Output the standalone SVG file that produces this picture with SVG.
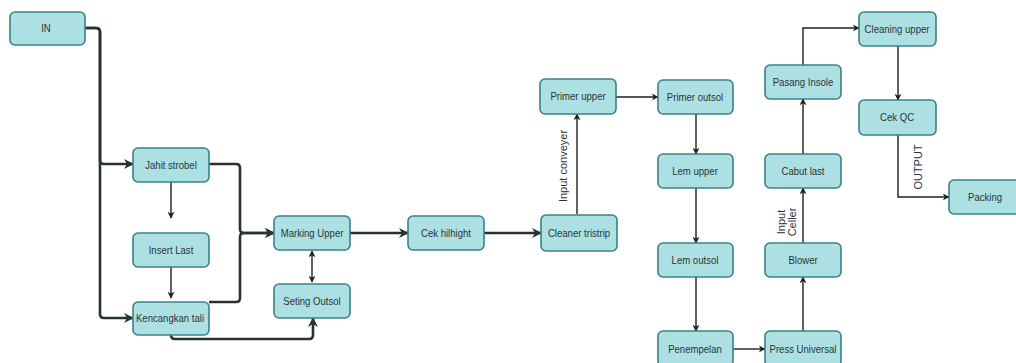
<svg xmlns="http://www.w3.org/2000/svg" width="1016" height="363" viewBox="0 0 1016 363">
<style>
.box{fill:#ade0e3;stroke:#3b8188;stroke-width:1.6}
.lbl{font-family:"Liberation Sans",Arial,sans-serif;font-size:11px;fill:#2a3438;text-anchor:middle;dominant-baseline:central;transform-box:fill-box;transform-origin:center;transform:scaleX(0.87)}
.rot{font-family:"Liberation Sans",Arial,sans-serif;font-size:11px;fill:#2a3438;text-anchor:middle;dominant-baseline:central}
.thick{fill:none;stroke:#263238;stroke-width:2.6;marker-end:url(#ah)}
.thin{fill:none;stroke:#1f1f1f;stroke-width:1.4;marker-end:url(#as)}
</style>
<defs>
<marker id="ah" viewBox="0 0 10 10" markerUnits="userSpaceOnUse" markerWidth="10" markerHeight="10" refX="9" refY="5" orient="auto"><path d="M0,0 L10,5 L0,10 L3,5 z" fill="#263238"/></marker>
<marker id="as" viewBox="0 0 10 10" markerUnits="userSpaceOnUse" markerWidth="7" markerHeight="7" refX="9" refY="5" orient="auto"><path d="M0,0 L10,5 L0,10 L3,5 z" fill="#1f1f1f"/></marker>
<marker id="as2" viewBox="0 0 10 10" markerUnits="userSpaceOnUse" markerWidth="7" markerHeight="7" refX="9" refY="5" orient="auto-start-reverse"><path d="M0,0 L10,5 L0,10 L3,5 z" fill="#1f1f1f"/></marker>
</defs>
<g id="connectors">
<path class="thick" d="M85,28 H96 Q100,28 100,32 V160 Q100,164 104,164 H133"/>
<path class="thick" d="M85,28 H96 Q100,28 100,32 V314 Q100,318 104,318 H133"/>
<path class="thin" d="M171,182 V218"/>
<path class="thin" d="M171,267 V298"/>
<path class="thick" d="M209,164 H236 Q240,164 240,168 V229 Q240,233 244,233 H274"/>
<path class="thick" d="M209,302 H236 Q240,302 240,298 V237 Q240,233 244,233 H274"/>
<path class="thick" d="M171,335 Q171,339 175,339 H309 Q313,339 313,335 V318"/>
<path d="M312,282 V251" fill="none" stroke="#1f1f1f" stroke-width="1.4" marker-start="url(#as2)" marker-end="url(#as2)"/>
<path class="thick" d="M350,233 H408"/>
<path class="thick" d="M484,233 H541"/>
<path class="thin" d="M577,214 V114"/>
<text class="rot" transform="translate(563,166) rotate(-90)">Input conveyer</text>
<path class="thin" d="M616,97 H658"/>
<path class="thin" d="M696,114 V154"/>
<path class="thin" d="M696,188 V243"/>
<path class="thin" d="M696,277 V331"/>
<path class="thin" d="M733,349 H765"/>
<path class="thin" d="M803,331 V277"/>
<path class="thin" d="M803,243 V188"/>
<text class="rot" transform="translate(781,222) rotate(-90)">Input</text>
<text class="rot" transform="translate(792,222) rotate(-90)">Celler</text>
<path class="thin" d="M803,154 V99"/>
<path class="thin" d="M803,65 V28 H859"/>
<path class="thin" d="M898,46 V100"/>
<path class="thin" d="M898,135 V197 H949"/>
<text class="rot" transform="translate(918,167) rotate(-90)">OUTPUT</text>
</g>
<g id="n-in"><rect class="box" x="10" y="12" width="75" height="33" rx="5"/><text class="lbl" x="46" y="28">IN</text></g>
<g id="n-jahit"><rect class="box" x="133" y="148" width="76" height="34" rx="5"/><text class="lbl" x="171" y="165">Jahit strobel</text></g>
<g id="n-insert"><rect class="box" x="133" y="233" width="76" height="34" rx="5"/><text class="lbl" x="171" y="250">Insert Last</text></g>
<g id="n-kencang"><rect class="box" x="133" y="302" width="76" height="33" rx="5"/><text class="lbl" x="170" y="318">Kencangkan tali</text></g>
<g id="n-marking"><rect class="box" x="274" y="216" width="76" height="34" rx="5"/><text class="lbl" x="312" y="233">Marking Upper</text></g>
<g id="n-seting"><rect class="box" x="274" y="284" width="76" height="34" rx="5"/><text class="lbl" x="312" y="301">Seting Outsol</text></g>
<g id="n-cek"><rect class="box" x="408" y="216" width="76" height="34" rx="5"/><text class="lbl" x="446" y="233">Cek hilhight</text></g>
<g id="n-cleaner"><rect class="box" x="541" y="215" width="76" height="36" rx="5"/><text class="lbl" x="579" y="233">Cleaner tristrip</text></g>
<g id="n-primerup"><rect class="box" x="540" y="79" width="76" height="35" rx="5"/><text class="lbl" x="578" y="96">Primer upper</text></g>
<g id="n-primerout"><rect class="box" x="658" y="80" width="75" height="34" rx="5"/><text class="lbl" x="695" y="97">Primer outsol</text></g>
<g id="n-lemup"><rect class="box" x="658" y="154" width="75" height="34" rx="5"/><text class="lbl" x="695" y="171">Lem upper</text></g>
<g id="n-lemout"><rect class="box" x="658" y="243" width="75" height="34" rx="5"/><text class="lbl" x="695" y="260">Lem outsol</text></g>
<g id="n-penempelan"><rect class="box" x="658" y="331" width="75" height="35" rx="5"/><text class="lbl" x="695" y="349">Penempelan</text></g>
<g id="n-press"><rect class="box" x="765" y="331" width="76" height="35" rx="5"/><text class="lbl" x="803" y="349">Press Universal</text></g>
<g id="n-blower"><rect class="box" x="765" y="243" width="76" height="34" rx="5"/><text class="lbl" x="803" y="260">Blower</text></g>
<g id="n-cabut"><rect class="box" x="765" y="154" width="76" height="34" rx="5"/><text class="lbl" x="803" y="171">Cabut last</text></g>
<g id="n-pasang"><rect class="box" x="765" y="65" width="76" height="34" rx="5"/><text class="lbl" x="803" y="82">Pasang Insole</text></g>
<g id="n-cleaning"><rect class="box" x="859" y="12" width="77" height="34" rx="5"/><text class="lbl" x="897" y="29">Cleaning upper</text></g>
<g id="n-cekqc"><rect class="box" x="859" y="100" width="77" height="35" rx="5"/><text class="lbl" x="897" y="117">Cek QC</text></g>
<g id="n-packing"><rect class="box" x="949" y="180" width="76" height="34" rx="5"/><text class="lbl" x="985" y="197">Packing</text></g>
</svg>
